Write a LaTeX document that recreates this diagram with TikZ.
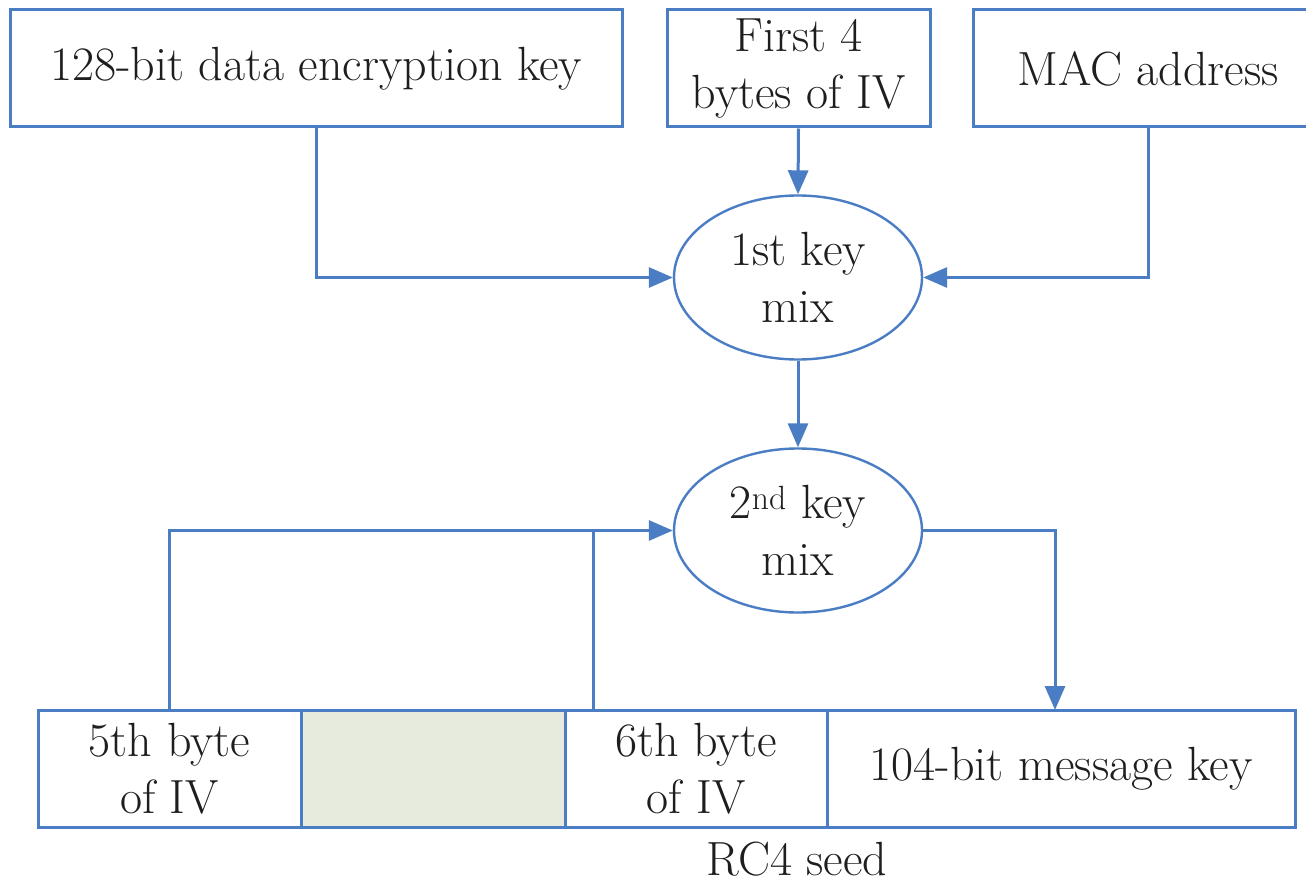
\documentclass[tikz,border=0pt]{standalone}
\usetikzlibrary{shapes.geometric,arrows.meta}
\definecolor{lineblue}{RGB}{74,125,196}
\definecolor{seedgray}{RGB}{231,235,222}
\definecolor{txt}{RGB}{30,30,30}
\begin{document}
\begin{tikzpicture}[x=1pt,y=-1pt,
  lbl/.style={text=txt,font=\fontsize{48}{57}\selectfont,align=center},
  box/.style={lbl,draw=lineblue,line width=3pt,fill=white,minimum width=#1,minimum height=117pt,inner sep=0pt},
  mix/.style={lbl,ellipse,draw=lineblue,line width=2.4pt,fill=white,minimum width=248pt,minimum height=164pt,inner sep=0pt},
  conn/.style={draw=lineblue,line width=3pt},
  arr/.style={conn,-{Triangle[length=24pt,width=20pt]}}]
\useasboundingbox (0,0) rectangle (1306,888);
\fill[white] (0,0) rectangle (1306,888);
% top row
\node[box=612pt] (b1) at (316,68.5) {128-bit data encryption key};
\node[box=263pt] (b2) at (798.5,68.5) {First 4\\bytes of IV};
\node[box=350pt] (b3) at (1148,68.5) {MAC address};
% mixing stages
\node[mix] (e1) at (798,277.5) {1st key\\mix};
\node[mix] (e2) at (798,530.5) {2\textsuperscript{nd} key\\mix};
% bottom row (RC4 seed)
\node[box=263pt] (b5) at (169.5,768.5) {5th byte\\of IV};
\node[box=264pt,fill=seedgray] (bg) at (433,768.5) {};
\node[box=262pt] (b6) at (696,768.5) {6th byte\\of IV};
\node[box=468pt] (bm) at (1061,768.5) {104-bit message key};
\node[lbl,anchor=base] (seed) at (797,875) {RC4 seed};
\coordinate (c6) at (593,710);
\coordinate (cm) at (1055,710);
% connectors
\draw[arr] (b1.south) |- (e1.west);
\draw[arr] (b2.south) -- (e1.north);
\draw[arr] (b3.south) |- (e1.east);
\draw[arr] (e1.south) -- (e2.north);
\draw[arr] (b5.north) |- (e2.west);
\draw[conn] (c6) |- ([xshift=-24pt]e2.west);
\draw[arr] (e2.east) -| (cm);
\end{tikzpicture}
\end{document}
